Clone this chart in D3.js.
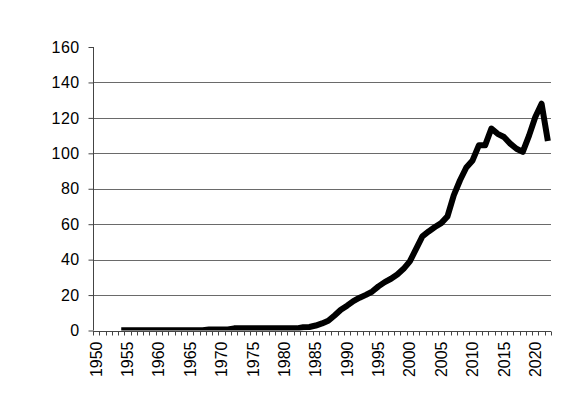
<!DOCTYPE html>
<html>
<head>
<meta charset="utf-8">
<script src="https://cdn.jsdelivr.net/npm/d3@7"></script>
<style>
  body { margin: 0; background: #fff; }
  text { font-family: "Liberation Sans", Arial, sans-serif; fill: #000; }
</style>
</head>
<body>
<script>
var margin = {top: 47, bottom: 89.5, left: 93, right: 26};
var width = 577 - margin.left - margin.right;
var height = 420 - margin.top - margin.bottom;

// categories and values
var years = d3.range(1950, 2023);
var yTicks = [0, 20, 40, 60, 80, 100, 120, 140, 160];
var startYear = 1954;
var values = [
  0.1, 0.1, 0.1, 0.1, 0.1, 0.1, 0.1, 0.1, 0.1, 0.1, 0.1, 0.1, 0.1, 0.1,  // 1954-1967
  0.6, 0.6, 0.6, 0.6,                                                  // 1968-1971
  1.2, 1.2, 1.2, 1.2, 1.2, 1.2, 1.2, 1.2, 1.2, 1.2, 1.2,              // 1972-1982
  1.8, 2.0, 2.8, 4.0, 5.5, 8.5, 11.7, 14, 16.6, 18.5, 20.1, 22,       // 1983-1994
  24.9, 27.3, 29.2, 31.6, 34.8, 39, 46.1, 53.1, 55.9, 58.4, 60.6,     // 1995-2005
  64.4, 76.3, 84.8, 92, 96, 104.5, 104.5, 114, 111, 109.2, 105.5,     // 2006-2016
  102.6, 100.8, 110, 120.5, 128, 107                                  // 2017-2022
];

var data = values.map(function(v, i) { return {year: startYear + i, value: v}; });

var svg = d3.select("body")
  .append("svg")
  .attr("width", 577)
  .attr("height", 420);

var xScale = d3.scaleBand()
  .domain(years)
  .range([margin.left, margin.left + width])
  .padding(0);

var yScale = d3.scaleLinear()
  .domain([0, 160])
  .range([margin.top + height, margin.top]);

// gridlines
svg.append("g")
  .selectAll("line")
  .data(yTicks.filter(function(d) { return d > 0 && d < 160; }))
  .enter().append("line")
  .attr("x1", margin.left)
  .attr("x2", margin.left + width)
  .attr("y1", function(d) { return Math.round(yScale(d)) + 0.5; })
  .attr("y2", function(d) { return Math.round(yScale(d)) + 0.5; })
  .attr("stroke", "#6a6a6a")
  .attr("stroke-width", 1);

// clip to plot area
svg.append("clipPath")
  .attr("id", "plot")
  .append("rect")
  .attr("x", margin.left)
  .attr("y", 0)
  .attr("width", width + 10)
  .attr("height", margin.top + height);

var line = d3.line()
  .x(function(d) { return xScale(d.year) + xScale.bandwidth() / 2; })
  .y(function(d) { return yScale(d.value); });

svg.append("path")
  .datum(data)
  .attr("clip-path", "url(#plot)")
  .attr("d", line)
  .attr("fill", "none")
  .attr("stroke", "#000")
  .attr("stroke-width", 6)
  .attr("stroke-linejoin", "round");

// Y axis
var yAxis = d3.axisLeft(yScale)
  .tickValues(yTicks)
  .tickSize(5)
  .tickPadding(9);

var gy = svg.append("g")
  .attr("transform", "translate(" + (margin.left + 0.5) + ",0)")
  .call(yAxis);
gy.selectAll("path, line").attr("stroke", "#444");
gy.select(".domain").attr("d", "M0," + yScale(160) + "V" + yScale(0));
gy.selectAll("text").style("font-size", "16px").style("letter-spacing", "0.4px");

// X axis
var xAxis = d3.axisBottom(xScale)
  .tickValues(years.filter(function(y) { return y % 5 === 0; }))
  .tickSize(0)
  .tickPadding(0);

var gx = svg.append("g")
  .attr("transform", "translate(0," + (Math.round(yScale(0)) + 0.5) + ")")
  .call(xAxis);
gx.select(".domain").attr("stroke", "#444").attr("d", "M" + margin.left + ",0H" + (margin.left + width));
gx.selectAll("text")
  .style("font-size", "16px")
  .attr("text-anchor", "end")
  .attr("dy", "0.35em")
  .attr("transform", "translate(0,10) rotate(-90)");

// small ticks at category boundaries
gx.append("g")
  .selectAll("line")
  .data(years.concat([2023]))
  .enter().append("line")
  .attr("x1", function(d) { return Math.round(d < 2023 ? xScale(d) : margin.left + width) + 0.5; })
  .attr("x2", function(d) { return Math.round(d < 2023 ? xScale(d) : margin.left + width) + 0.5; })
  .attr("y1", 0)
  .attr("y2", 4)
  .attr("stroke", "#444");
</script>
</body>
</html>
